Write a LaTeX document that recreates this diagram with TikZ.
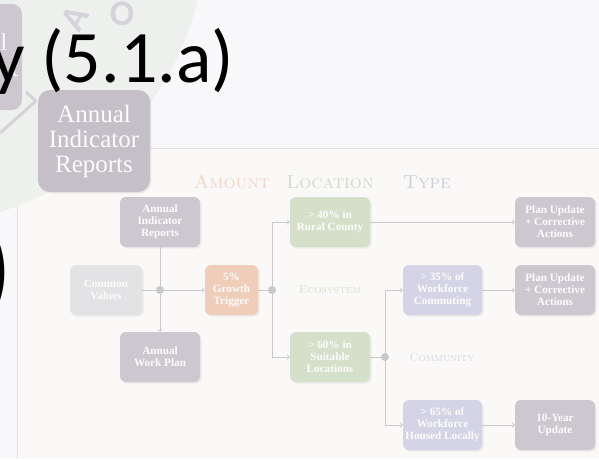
\documentclass[tikz,border=0pt]{standalone}
\usepackage{fontspec}
\usepackage{xcolor}
\usetikzlibrary{shadows}

\newfontfamily\titlefont{Carlito}
\newfontfamily\boxfont{Liberation Serif}

\definecolor{pagebg}{HTML}{F8F8FA}
\definecolor{panelbg}{HTML}{FAF9F8}
\definecolor{logogray}{HTML}{EEF0EE}
\definecolor{logoline}{HTML}{D3D3D9}
\definecolor{mauve}{HTML}{CDC7CF}
\definecolor{paleg}{HTML}{E3E3E6}
\definecolor{peach}{HTML}{F0CDB9}
\definecolor{sage}{HTML}{D4E0C9}
\definecolor{lilac}{HTML}{D4D4E6}
\definecolor{wire}{HTML}{C9C9CC}
\definecolor{rulegray}{HTML}{E0E0E4}

\begin{document}
\begin{tikzpicture}[x=1pt, y=-1pt,
    box/.style={rounded corners=6pt, minimum width=80pt, minimum height=50pt,
      align=center, inner sep=2pt, text=white!94!mauve,
      font=\boxfont\bfseries\fontsize{11.2}{12}\selectfont,
      drop shadow={opacity=0.12, shadow xshift=1.5pt, shadow yshift=-1.5pt}},
    dot/.style={circle, fill=wire, minimum size=8pt, inner sep=0pt},
    link/.style={draw=wire, line width=0.9pt},
    head/.style={font=\fontsize{19}{19}\selectfont\scshape},
    sub/.style={font=\fontsize{11.5}{11.5}\selectfont\scshape}]
  \useasboundingbox (0,0) rectangle (599,459);

  % slide background and the faint logo behind the title
  \fill[pagebg] (0,0) rectangle (599,459);
  \fill[panelbg] (17,148) rectangle (599,459);
  \draw[rulegray, line width=1pt] (17,148) -- (599,148);
  \draw[rulegray, line width=1pt] (17,148) -- (17,459);
  \fill[logogray] (-90,-70) circle (296);
  \node[text=logoline, rotate=60, font=\titlefont\bfseries\fontsize{36}{36}\selectfont] (logoA) at (75,18) {A};
  \node[text=logoline, font=\titlefont\bfseries\fontsize{36}{36}\selectfont] (logoO) at (122,14) {O};
  \draw[logoline, line width=3pt] (26,92) -- (36,101);
  \draw[logoline, line width=3pt] (0,133) -- (36,101);

  % cut-off boxes of the slide above
  \fill[mauve] (-30,4) [rounded corners=10pt] rectangle (22,110);
  \node[text=white!94!mauve, font=\boxfont\fontsize{24}{24}\selectfont] (cutl) at (4,42) {l};
  \node[text=white!94!mauve, font=\boxfont\fontsize{24}{24}\selectfont] (cutt) at (15,70) {t};
  \node[box, fill=mauve!96!black, minimum width=112pt, minimum height=102pt, rounded corners=12pt,
    font=\boxfont\fontsize{25}{25}\selectfont] (bigair) at (94,141)
    {Annual\\Indicator\\Reports};

  % title text
  \node[anchor=base west, inner sep=0pt, font=\titlefont\fontsize{74}{74}\selectfont]
    (title) at (-9,82) {y (5.1.a)};
  \node[anchor=east, inner sep=0pt, font=\titlefont\fontsize{110}{110}\selectfont]
    (paren) at (13,273) {)};

  % column headers
  \node[head, text=peach!85!white] (hamount) at (232,182) {Amount};
  \node[head, text=sage!95!gray] (hlocation) at (330,182) {Location};
  \node[head, text=lilac!90!gray] (htype) at (427,182) {Type};
  \node[sub, text=sage] (heco) at (330,290) {Ecosystem};
  \node[sub, text=lilac] (hcomm) at (442,358) {Community};

  % boxes
  \node[box, fill=mauve] (air) at (160,222) {Annual\\Indicator\\Reports};
  \node[box, fill=paleg, minimum width=72pt] (cv) at (106,290) {Common\\Values};
  \node[box, fill=peach, minimum width=53pt] (trig) at (231.5,290) {5\%\\Growth\\Trigger};
  \node[box, fill=mauve] (awp) at (160,357) {Annual\\Work Plan};
  \node[box, fill=sage] (rural) at (330,222) {> 40\% in\\Rural County};
  \node[box, fill=sage] (suit) at (330,357) {> 60\% in\\Suitable\\Locations};
  \node[box, fill=lilac, minimum width=79pt] (commute) at (442.5,290) {> 35\% of\\Workforce\\Commuting};
  \node[box, fill=lilac, minimum width=79pt] (housed) at (442.5,425) {> 65\% of\\Workforce\\Housed Locally};
  \node[box, fill=mauve] (upd1) at (555,222) {Plan Update\\+ Corrective\\Actions};
  \node[box, fill=mauve] (upd2) at (555,290) {Plan Update\\+ Corrective\\Actions};
  \node[box, fill=mauve] (tenyr) at (555,425) {10-Year\\Update};

  % junctions
  \node[dot] (j1) at (160,290) {};
  \node[dot] (j2) at (272,290) {};
  \node[dot] (j3) at (385,357) {};

  % connectors
  \draw[link] (air) -- (j1);
  \draw[link] (cv) -- (j1);
  \draw[link, ->] (j1) -- (awp);
  \draw[link, ->] (j1) -- (trig);
  \draw[link] (trig) -- (j2);
  \draw[link, ->] (j2) |- (rural);
  \draw[link, ->] (j2) |- (suit);
  \draw[link, ->] (rural) -- (upd1);
  \draw[link] (suit) -- (j3);
  \draw[link, ->] (j3) |- (commute);
  \draw[link, ->] (j3) |- (housed);
  \draw[link, ->] (commute) -- (upd2);
  \draw[link, ->] (housed) -- (tenyr);
\end{tikzpicture}
\end{document}
